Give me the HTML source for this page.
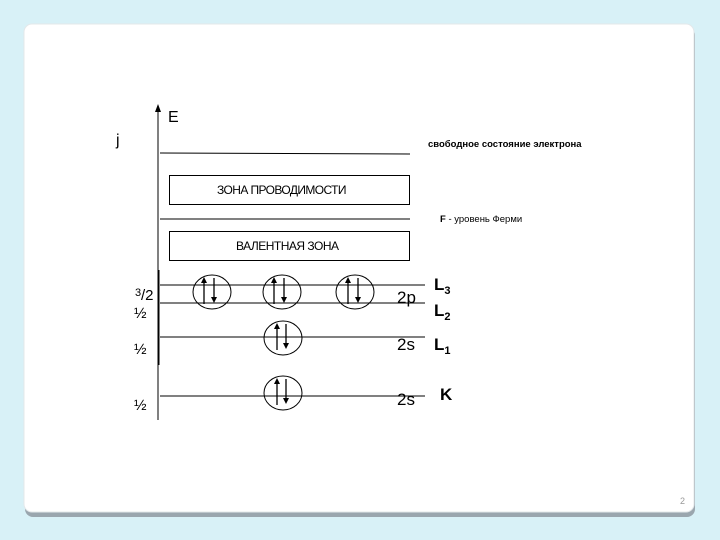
<!DOCTYPE html>
<html><head><meta charset="utf-8"><style>
body{margin:0;background:#d8f1f7;}
</style></head><body>
<svg width="720" height="540" xmlns="http://www.w3.org/2000/svg" style="display:block;font-family:'Liberation Sans',sans-serif">
<rect x="0" y="0" width="720" height="540" fill="#d8f1f7"/>
<rect x="25" y="27" width="670" height="490" rx="8" fill="#9aa6ae"/>
<rect x="24" y="24" width="670" height="488" rx="8" fill="#fff" stroke="#e3e8ea"/>
<g stroke="#000" fill="none" stroke-width="1">
<line x1="158" y1="110" x2="158" y2="420"/>
<line x1="158.5" y1="270" x2="158.5" y2="365" stroke-width="2"/>
<line x1="160" y1="153" x2="410" y2="154"/>
<rect x="169.5" y="175.5" width="240" height="29"/>
<line x1="160" y1="219" x2="410" y2="219"/>
<rect x="169.5" y="231.5" width="240" height="29"/>
<line x1="160" y1="285" x2="425" y2="285"/>
<line x1="160" y1="303" x2="425" y2="303"/>
<line x1="160" y1="337" x2="425" y2="337"/>
<line x1="160" y1="396" x2="425" y2="396"/>
<ellipse cx="212" cy="292" rx="19" ry="17"/>
<ellipse cx="282" cy="292" rx="19" ry="17"/>
<ellipse cx="355" cy="292" rx="19" ry="17"/>
<ellipse cx="283" cy="338" rx="19" ry="17"/>
<ellipse cx="283" cy="393" rx="19" ry="17"/>
</g>
<g stroke="#000" stroke-width="1.3">
<line x1="204" y1="280" x2="204" y2="304"/><line x1="214" y1="278" x2="214" y2="300"/>
<line x1="274" y1="280" x2="274" y2="304"/><line x1="284" y1="278" x2="284" y2="300"/>
<line x1="348" y1="280" x2="348" y2="304"/><line x1="358" y1="278" x2="358" y2="300"/>
<line x1="277" y1="326" x2="277" y2="350"/><line x1="286" y1="324" x2="286" y2="346"/>
<line x1="277" y1="381" x2="277" y2="405"/><line x1="286" y1="379" x2="286" y2="401"/>
</g>
<g fill="#000">
<polygon points="158,104 155,112 161,112"/>
<polygon points="204,277 201,283 207,283"/><polygon points="214,303 211,297 217,297"/>
<polygon points="274,277 271,283 277,283"/><polygon points="284,303 281,297 287,297"/>
<polygon points="348,277 345,283 351,283"/><polygon points="358,303 355,297 361,297"/>
<polygon points="277,323 274,329 280,329"/><polygon points="286,349 283,343 289,343"/>
<polygon points="277,378 274,384 280,384"/><polygon points="286,404 283,398 289,398"/>
</g>
<g font-size="12" fill="#000">
<text x="217" y="194" letter-spacing="-0.6">ЗОНА ПРОВОДИМОСТИ</text>
<text x="236" y="250" letter-spacing="-0.5">ВАЛЕНТНАЯ ЗОНА</text>
</g>
<text x="168" y="122" font-size="16">E</text>
<text x="116" y="145" font-size="16">j</text>
<text x="428" y="147" font-size="9.5" font-weight="bold">свободное состояние электрона</text>
<text x="440" y="222" font-size="9.5"><tspan font-weight="bold">F</tspan> - уровень Ферми</text>
<g font-size="15">
<text x="135" y="296" font-size="11">3</text><text x="141" y="300">/2</text>
<text x="134" y="318">½</text>
<text x="134" y="354">½</text>
<text x="134" y="410">½</text>
<text x="397" y="303" font-size="17">2p</text>
<text x="397" y="350" font-size="17">2s</text>
<text x="397" y="405" font-size="17">2s</text>
</g>
<g font-size="17" font-weight="bold">
<text x="434" y="290">L<tspan font-size="11" dy="4">3</tspan></text>
<text x="434" y="316">L<tspan font-size="11" dy="4">2</tspan></text>
<text x="434" y="350">L<tspan font-size="11" dy="4">1</tspan></text>
<text x="440" y="400">K</text>
</g>
<text x="680" y="504" font-size="9" fill="#999">2</text>
</svg>
</body></html>
